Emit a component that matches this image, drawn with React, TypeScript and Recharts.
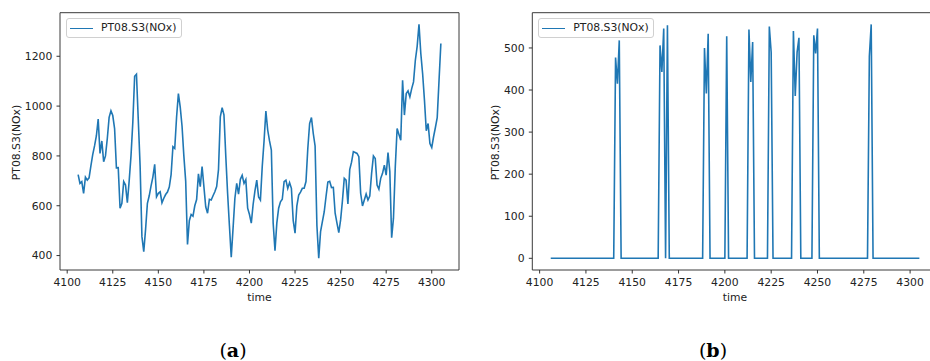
import React from 'react';
import { LineChart, Line, XAxis, YAxis, ReferenceArea } from 'recharts';

const startTime = 4106;

// PT08.S3(NOx) raw series, panel (a), time 4106..4305
const noxValues: number[] = [
  725, 690, 697, 650, 715, 703, 712, 760, 805, 840,
  880, 948, 810, 860, 777, 800, 870, 955, 981, 962,
  910, 752, 753, 590, 610, 697, 683, 612, 700, 800,
  935, 1120, 1128, 944, 760, 476, 416, 505, 610, 640,
  680, 715, 766, 636, 650, 656, 612, 630, 645, 655,
  675, 725, 837, 830, 955, 1050, 997, 920, 800, 700,
  445, 540, 565, 558, 600, 625, 728, 677, 757, 677,
  596, 570, 626, 623, 640, 656, 677, 745, 957, 994,
  965, 800, 650, 520, 393, 510, 630, 690, 647, 706,
  722, 690, 705, 590, 565, 530, 605, 660, 703, 635,
  623, 757, 860, 980, 904, 860, 823, 530, 420, 530,
  590, 616, 626, 697, 703, 670, 693, 670, 540, 490,
  600, 643, 655, 670, 670, 697, 830, 930, 954, 890,
  840, 520, 389, 496, 536, 575, 637, 695, 698, 673,
  674, 570, 530, 492, 543, 620, 710, 703, 607, 745,
  775, 817, 814, 810, 797, 650, 599, 623, 647, 623,
  639, 730, 800, 790, 683, 666, 710, 730, 763, 723,
  813, 737, 472, 550, 757, 910, 886, 863, 1104, 964,
  1050, 1061, 1037, 1070, 1097, 1184, 1240, 1328, 1211, 1130,
  1024, 901, 930, 850, 834, 877, 914, 954, 1104, 1251,
];

// PT08.S3(NOx) series, panel (b), time 4106..4305
const spikeValues: number[] = [
  0, 0, 0, 0, 0, 0, 0, 0, 0, 0,
  0, 0, 0, 0, 0, 0, 0, 0, 0, 0,
  0, 0, 0, 0, 0, 0, 0, 0, 0, 0,
  0, 0, 0, 0, 0, 477, 415, 518, 0, 0,
  0, 0, 0, 0, 0, 0, 0, 0, 0, 0,
  0, 0, 0, 0, 0, 0, 0, 0, 0, 506,
  443, 546, 0, 554, 0, 0, 0, 0, 0, 0,
  0, 0, 0, 0, 0, 0, 0, 0, 0, 0,
  0, 0, 0, 500, 392, 534, 0, 0, 0, 0,
  0, 0, 0, 0, 0, 528, 0, 0, 0, 0,
  0, 0, 0, 0, 0, 0, 0, 544, 419, 514,
  0, 0, 0, 0, 0, 0, 0, 0, 551, 490,
  0, 0, 0, 0, 0, 0, 0, 0, 0, 0,
  0, 540, 386, 490, 524, 0, 0, 0, 0, 0,
  0, 0, 530, 487, 546, 0, 0, 0, 0, 0,
  0, 0, 0, 0, 0, 0, 0, 0, 0, 0,
  0, 0, 0, 0, 0, 0, 0, 0, 0, 0,
  0, 0, 480, 556, 0, 0, 0, 0, 0, 0,
  0, 0, 0, 0, 0, 0, 0, 0, 0, 0,
  0, 0, 0, 0, 0, 0, 0, 0, 0, 0,
];

const xTicks = [4100, 4125, 4150, 4175, 4200, 4225, 4250, 4275, 4300];
const yTicksA = [400, 600, 800, 1000, 1200];
const yTicksB = [0, 100, 200, 300, 400, 500];

const seriesName = 'PT08.S3(NOx)';
const xLabel = 'time';

const COLOR = '#1f77b4';
const TEXT = '#222';
const FONT = '"DejaVu Sans", sans-serif';
const FS = 10.8;

function pad(vals: number[]): [number, number] {
  const mn = Math.min(...vals);
  const mx = Math.max(...vals);
  const r = mx - mn;
  return [mn - 0.05 * r, mx + 0.05 * r];
}

const times = noxValues.map((_, i) => startTime + i);
const dataA = times.map((t, i) => ({ t, v: noxValues[i] }));
const dataB = times.map((t, i) => ({ t, v: spikeValues[i] }));
const xDom = pad(times);
const yDomA = pad(noxValues);
const yDomB = pad(spikeValues);

const tickStyle = { fontSize: FS, fontFamily: FONT, fill: TEXT };

function Panel(props: {
  data: { t: number; v: number }[];
  yDom: [number, number];
  yTicks: number[];
  yAxisWidth: number;
  rightMargin: number;
}) {
  const { data, yDom, yTicks, yAxisWidth, rightMargin } = props;
  return (
    <LineChart
      width={470}
      height={361}
      data={data}
      margin={{ top: 12.7, right: rightMargin, bottom: 61, left: 0 }}
    >
      <XAxis
        dataKey="t"
        type="number"
        domain={xDom}
        allowDataOverflow
        ticks={xTicks}
        interval={0}
        height={30}
        axisLine={false}
        tickLine={{ stroke: '#333', strokeWidth: 1 }}
        tickSize={3.5}
        tickMargin={4.5}
        tick={tickStyle}
      />
      <YAxis
        type="number"
        domain={yDom}
        allowDataOverflow
        ticks={yTicks}
        interval={0}
        width={yAxisWidth}
        axisLine={false}
        tickLine={{ stroke: '#333', strokeWidth: 1 }}
        tickSize={3.5}
        tickMargin={4.2}
        tick={tickStyle}
      />
      <Line
        type="linear"
        dataKey="v"
        name={seriesName}
        stroke={COLOR}
        strokeWidth={1.6}
        dot={false}
        activeDot={false}
        isAnimationActive={false}
      />
      <ReferenceArea
        x1={xDom[0]}
        x2={xDom[1]}
        y1={yDom[0]}
        y2={yDom[1]}
        fill="none"
        fillOpacity={0}
        stroke="#3a3a3a"
        strokeWidth={1}
        ifOverflow="visible"
      />
    </LineChart>
  );
}

function LegendBox(props: { left: number; top: number }) {
  return (
    <div
      style={{
        position: 'absolute',
        left: props.left,
        top: props.top,
        width: 114,
        height: 18,
        border: '1px solid #d0d0d0',
        borderRadius: 3,
        background: 'rgba(255,255,255,0.85)',
        fontFamily: FONT,
        fontSize: FS,
        color: TEXT,
      }}
    >
      <div
        style={{
          position: 'absolute',
          left: 3,
          top: 8.5,
          width: 23,
          height: 1.5,
          background: COLOR,
        }}
      />
      <div style={{ position: 'absolute', left: 34, top: 1.5, whiteSpace: 'nowrap', lineHeight: '14px' }}>
        {seriesName}
      </div>
    </div>
  );
}

export default function App() {
  return (
    <div
      style={{
        position: 'fixed',
        left: 0,
        top: 0,
        width: 930,
        height: 361,
        overflow: 'hidden',
        background: '#fff',
      }}
    >
      <div style={{ position: 'absolute', left: 0, top: 0 }}>
        <Panel data={dataA} yDom={yDomA} yTicks={yTicksA} yAxisWidth={60} rightMargin={11} />
      </div>
      <div style={{ position: 'absolute', left: 470, top: 0 }}>
        <Panel data={dataB} yDom={yDomB} yTicks={yTicksB} yAxisWidth={62.3} rightMargin={2.2} />
      </div>
      <LegendBox left={66} top={18} />
      <LegendBox left={538.3} top={18} />
      <svg
        width={930}
        height={361}
        style={{ position: 'absolute', left: 0, top: 0, pointerEvents: 'none' }}
      >
        <g fontFamily={FONT} fontSize={FS} fill={TEXT}>
          <text transform="translate(16,142.5) rotate(-90)" textAnchor="middle" dy="0.36em">
            {seriesName}
          </text>
          <text transform="translate(495,142.5) rotate(-90)" textAnchor="middle" dy="0.36em">
            {seriesName}
          </text>
          <text x={259.5} y={301} textAnchor="middle">
            {xLabel}
          </text>
          <text x={735} y={301} textAnchor="middle">
            {xLabel}
          </text>
        </g>
        <g fontFamily='"DejaVu Serif", serif' fontSize={19} fill="#000">
          <text x={233} y={357} textAnchor="middle">
            (<tspan fontWeight="bold">a</tspan>)
          </text>
          <text x={713} y={357} textAnchor="middle">
            (<tspan fontWeight="bold">b</tspan>)
          </text>
        </g>
      </svg>
    </div>
  );
}
